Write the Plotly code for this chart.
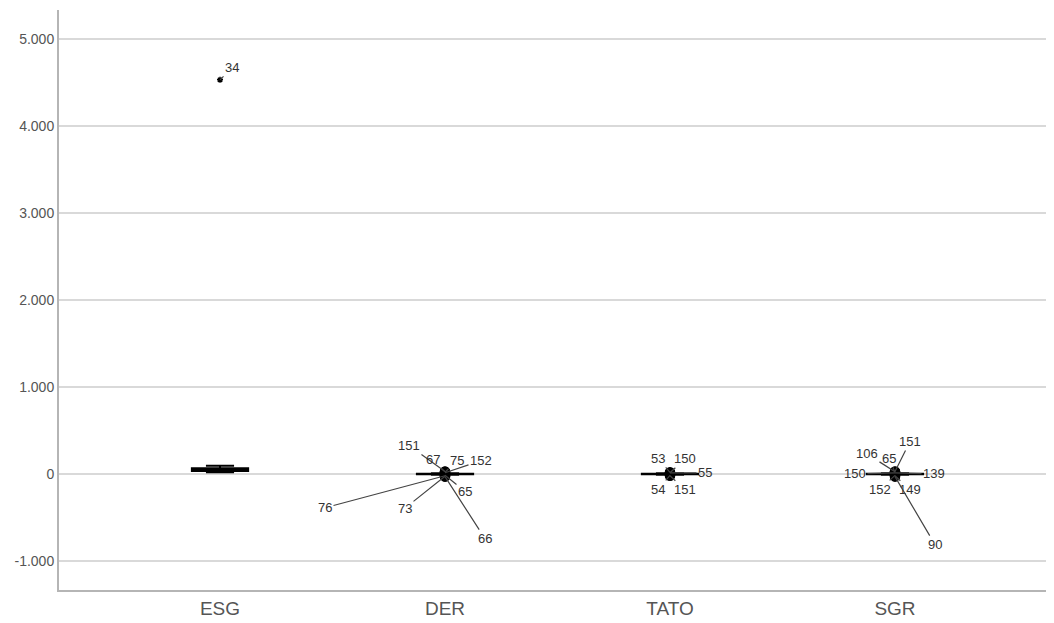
import plotly.graph_objects as go

# ---- data ----
categories = ["ESG", "DER", "TATO", "SGR"]
lower_fence = [20, -8, -8, -8]
q1 = [35, -4, -4, -4]
median = [50, 0, 0, 0]
q3 = [65, 4, 4, 4]
upper_fence = [95, 8, 8, 8]

# outliers per category: (case label, value)
esg_out_labels = ["34"]
esg_out_values = [4530]
der_out_labels = ["151", "67", "75", "152", "65", "76", "73", "66"]
der_out_values = [30, 25, 20, 15, -15, -20, -25, -30]
tato_out_labels = ["53", "150", "54", "151", "55"]
tato_out_values = [20, 15, -15, -20, 12]
sgr_out_labels = ["106", "65", "151", "150", "139", "152", "149", "90"]
sgr_out_values = [25, 20, 30, 12, 12, -15, -20, -30]

ticks_y = [-1000, 0, 1000, 2000, 3000, 4000, 5000]
ticks_y_text = ["-1.000", "0", "1.000", "2.000", "3.000", "4.000", "5.000"]

# label offsets (pixels) - styling only
esg_off = [(12, -12)]
der_off = [(-36, -26), (-12, -12), (12, -12), (36, -12), (20, 16), (-120, 32), (-40, 32), (40, 62)]
tato_off = [(-12, -14), (15, -14), (-12, 14), (15, 14), (35, 0)]
sgr_off = [(-28, -18), (-6, -14), (15, -30), (-40, 1), (39, 1), (-15, 14), (15, 14), (40, 68)]

FONT = "Liberation Sans, Arial, sans-serif"

fig = go.Figure()
for i, c in enumerate(categories):
    fig.add_trace(go.Box(
        x=[i], q1=[q1[i]], median=[median[i]], q3=[q3[i]],
        lowerfence=[lower_fence[i]], upperfence=[upper_fence[i]],
        width=0.25, whiskerwidth=0.5, boxpoints=False,
        line=dict(color="black", width=2), fillcolor="#222222",
        showlegend=False, hoverinfo="skip"))

groups = [
    (0, esg_out_labels, esg_out_values, esg_off, "asterisk-open", 5),
    (1, der_out_labels, der_out_values, der_off, "circle", 9),
    (2, tato_out_labels, tato_out_values, tato_off, "circle", 9),
    (3, sgr_out_labels, sgr_out_values, sgr_off, "circle", 9),
]
for xi, labels, values, offs, sym, sz in groups:
    fig.add_trace(go.Scatter(
        x=[xi] * len(values), y=values, mode="markers",
        marker=dict(symbol=sym, size=sz, color="black",
                    line=dict(color="black", width=1.5)),
        showlegend=False, hoverinfo="skip"))
    for lab, v, (dx, dy) in zip(labels, values, offs):
        fig.add_annotation(
            x=xi, y=v, text=lab, showarrow=True, arrowhead=0,
            arrowwidth=1.2, arrowcolor="#444444", ax=dx, ay=dy,
            font=dict(family=FONT, size=13, color="#333333"))

# the page body adds 8px; figure sized so the plot area lands where the reference has it
fig.update_layout(
    width=1046, height=615,
    margin=dict(l=51, r=0, t=2, b=33),
    paper_bgcolor="white", plot_bgcolor="white",
    font=dict(family=FONT, color="#555555"),
)
fig.update_xaxes(
    range=[-0.7156, 3.7067], tickvals=list(range(len(categories))),
    ticktext=categories, showgrid=False, zeroline=False,
    showline=True, linecolor="#b5b5b5", linewidth=2,
    ticks="", tickfont=dict(size=19, color="#555555"))
fig.update_yaxes(
    range=[-1333, 5333], tickvals=ticks_y, ticktext=ticks_y_text,
    showgrid=True, gridcolor="#d9d9d9", gridwidth=1.5,
    zeroline=False, showline=True, linecolor="#b5b5b5", linewidth=2,
    ticks="", tickfont=dict(size=14, color="#555555"))

fig.write_html("out.html")
